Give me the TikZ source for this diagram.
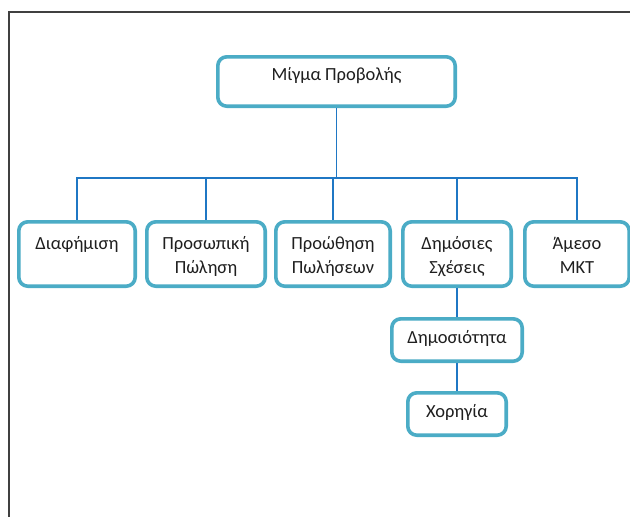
\documentclass[tikz,border=0pt]{standalone}
\usepackage{fontspec}
\setmainfont{Carlito}
\definecolor{boxblue}{RGB}{75,172,198}
\definecolor{linkblue}{RGB}{31,119,196}
\definecolor{framegray}{RGB}{64,64,64}
\tikzset{
	box/.style 2 args={draw=boxblue, line width=3.6pt, rounded corners=9pt, fill=white, inner sep=0pt, minimum width=#1, minimum height=#2},
	txt/.style={anchor=north, align=center, inner sep=0pt, text=black!88, font=\fontsize{18.5}{24}\selectfont},
	link/.style={draw=linkblue, line width=1.1pt}
}
\begin{document}
\begin{tikzpicture}[x=1pt, y=-1pt]
	\useasboundingbox (0,0) rectangle (630,517);
	% page frame
	\draw[framegray, line width=1.4pt] (9,517) -- (9,12) -- (630,12);
	
	% top
	\node[box={237.4pt}{49.4pt}, label={[txt, yshift=-8.6pt]north:\strut Μίγμα Προβολής}] (mix) at (336.5, 81.5) {};
	\coordinate (bus) at (336.5, 178);
	
	% second level
	\node[box={116.4pt}{64.4pt}, label={[txt, yshift=-12pt]north:\strut Διαφήμιση}] (adv) at (77, 254) {};
	\node[box={118.4pt}{64.4pt}, label={[txt, yshift=-12pt]north:{\strut Προσωπική\\Πώληση}}] (sell) at (206, 254) {};
	\node[box={114.4pt}{64.4pt}, label={[txt, yshift=-12pt]north:{\strut Προώθηση\\Πωλήσεων}}] (promo) at (333, 254) {};
	\node[box={108.4pt}{64.4pt}, label={[txt, yshift=-12pt]north:{\strut Δημόσιες\\Σχέσεις}}] (pr) at (457, 254) {};
	\node[box={104.4pt}{64.4pt}, label={[txt, yshift=-12pt]north:{\strut Άμεσο\\ΜΚΤ}}] (direct) at (577, 254) {};
	
	% under public relations
	\node[box={130.4pt}{42.4pt}, label={[txt, yshift=-9.4pt]north:\strut Δημοσιότητα}] (publ) at (457, 340) {};
	\node[box={98.4pt}{42.4pt}, label={[txt, yshift=-9.4pt]north:\strut Χορηγία}] (spons) at (457, 414) {};
	
	% connectors
	\draw[link] (mix.south) -- (bus);
	\foreach \c in {adv, sell, promo, pr, direct}
		\draw[link] (bus) -| (\c.north);
	\draw[link] (pr.south) -- (publ.north);
	\draw[link] (publ.south) -- (spons.north);
\end{tikzpicture}
\end{document}
